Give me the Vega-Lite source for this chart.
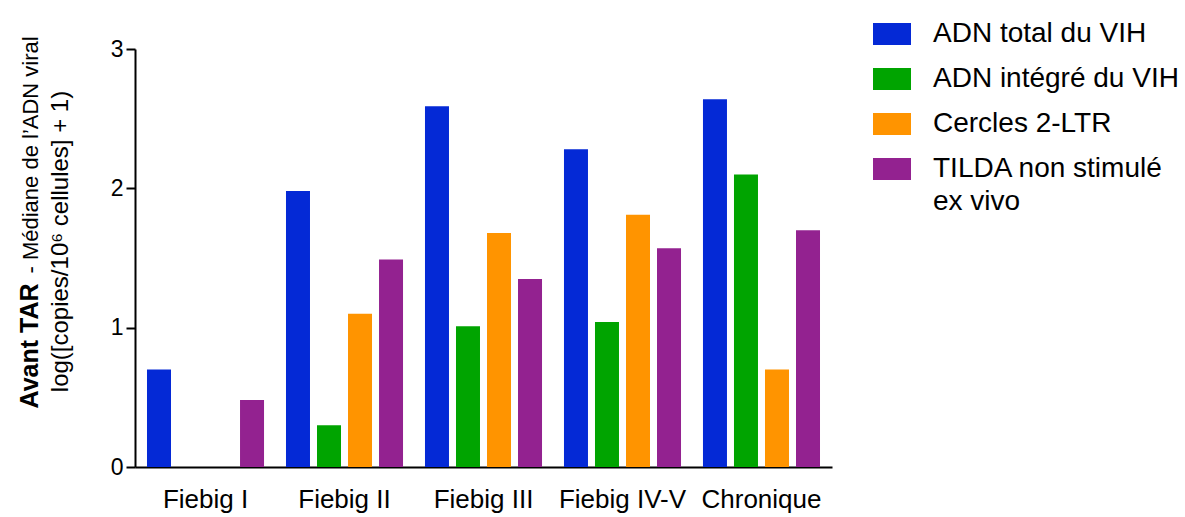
{
  "$schema": "https://vega.github.io/schema/vega-lite/v6.json",
  "width": 697,
  "height": 418,
  "autosize": {"type": "none"},
  "padding": {"left": 135, "top": 49, "right": 353, "bottom": 50},
  "background": "white",
  "config": {"view": {"stroke": null}, "font": "Liberation Sans", "axis": {"grid": false}},
  "data": {"values": [
    {"stage": "Fiebig I", "series": "ADN total du VIH", "value": 0.70},
    {"stage": "Fiebig I", "series": "TILDA non stimulé ex vivo", "value": 0.48},
    {"stage": "Fiebig II", "series": "ADN total du VIH", "value": 1.98},
    {"stage": "Fiebig II", "series": "ADN intégré du VIH", "value": 0.30},
    {"stage": "Fiebig II", "series": "Cercles 2-LTR", "value": 1.10},
    {"stage": "Fiebig II", "series": "TILDA non stimulé ex vivo", "value": 1.49},
    {"stage": "Fiebig III", "series": "ADN total du VIH", "value": 2.59},
    {"stage": "Fiebig III", "series": "ADN intégré du VIH", "value": 1.01},
    {"stage": "Fiebig III", "series": "Cercles 2-LTR", "value": 1.68},
    {"stage": "Fiebig III", "series": "TILDA non stimulé ex vivo", "value": 1.35},
    {"stage": "Fiebig IV-V", "series": "ADN total du VIH", "value": 2.28},
    {"stage": "Fiebig IV-V", "series": "ADN intégré du VIH", "value": 1.04},
    {"stage": "Fiebig IV-V", "series": "Cercles 2-LTR", "value": 1.81},
    {"stage": "Fiebig IV-V", "series": "TILDA non stimulé ex vivo", "value": 1.57},
    {"stage": "Chronique", "series": "ADN total du VIH", "value": 2.64},
    {"stage": "Chronique", "series": "ADN intégré du VIH", "value": 2.10},
    {"stage": "Chronique", "series": "Cercles 2-LTR", "value": 0.70},
    {"stage": "Chronique", "series": "TILDA non stimulé ex vivo", "value": 1.70}
  ]},
  "encoding": {
    "x": {
      "field": "stage", "type": "nominal",
      "sort": ["Fiebig I", "Fiebig II", "Fiebig III", "Fiebig IV-V", "Chronique"],
      "scale": {"paddingInner": 0.158, "paddingOuter": 0.0863},
      "axis": {"title": null, "labelFontSize": 26, "labelColor": "black", "labelAngle": 0, "ticks": false, "tickSize": 0, "labelPadding": 19, "domainColor": "black", "domainWidth": 2}
    },
    "xOffset": {
      "field": "series", "type": "nominal",
      "scale": {"domain": ["ADN total du VIH", "ADN intégré du VIH", "Cercles 2-LTR", "TILDA non stimulé ex vivo"], "paddingInner": 0.226, "paddingOuter": 0}
    }
  },
  "layer": [
    {
      "mark": {"type": "bar"},
      "encoding": {
        "y": {
          "field": "value", "type": "quantitative",
          "scale": {"domain": [0, 3], "nice": false},
          "axis": {"title": "log([copies/10⁶ cellules] + 1)", "values": [0, 1, 2, 3], "format": "d", "labelFontSize": 23, "labelColor": "black", "labelPadding": 3, "tickSize": 9, "tickWidth": 2, "tickColor": "black", "domainColor": "black", "domainWidth": 2, "titleFontSize": 24, "titleFontWeight": "normal", "titleColor": "black", "titleX": -68, "titleY": 192, "titleAngle": -90, "titleAlign": "center", "titleBaseline": "alphabetic"}
        },
        "color": {
          "field": "series", "type": "nominal",
          "scale": {"domain": ["ADN total du VIH", "ADN intégré du VIH", "Cercles 2-LTR", "TILDA non stimulé ex vivo"], "range": ["#0429d6", "#00a400", "#ff9400", "#932290"]},
          "legend": {
            "title": null, "orient": "none", "legendX": 738, "legendY": -34,
            "symbolType": "M-1,-0.58L1,-0.58L1,0.58L-1,0.58Z", "symbolSize": 1444,
            "symbolStrokeWidth": 0, "symbolOpacity": 1,
            "labelFontSize": 28, "labelColor": "black", "labelOffset": 22, "labelLimit": 400,
            "rowPadding": 12, "padding": 0, "labelBaseline": "top",
            "labelExpr": "datum.label === 'TILDA non stimulé ex vivo' ? ['TILDA non stimulé', 'ex vivo'] : datum.label",
            "encode": {"labels": {"update": {"dy": {"value": -14}, "lineHeight": {"value": 33}}}}
          }
        }
      }
    },
    {
      "mark": {"type": "bar", "opacity": 0},
      "encoding": {
        "y": {
          "field": "value", "type": "quantitative",
          "axis": {"orient": "left", "title": "- Médiane de l’ADN viral", "labels": false, "ticks": false, "domain": false, "titleFontSize": 22, "titleFontWeight": "normal", "titleColor": "black", "titleX": -98, "titleY": 224, "titleAngle": -90, "titleAlign": "left", "titleBaseline": "alphabetic"}
        }
      }
    },
    {
      "mark": {"type": "bar", "opacity": 0},
      "encoding": {
        "y": {
          "field": "value", "type": "quantitative",
          "axis": {"orient": "left", "title": "Avant TAR", "labels": false, "ticks": false, "domain": false, "titleFontSize": 25, "titleFontWeight": "bold", "titleColor": "black", "titleX": -98, "titleY": 359, "titleAngle": -90, "titleAlign": "left", "titleBaseline": "alphabetic"}
        }
      }
    }
  ],
  "resolve": {"axis": {"y": "independent"}}
}
